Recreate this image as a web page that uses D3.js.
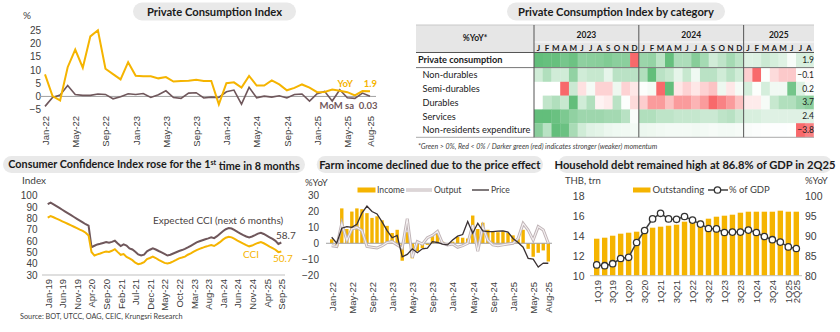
<!DOCTYPE html>
<html><head><meta charset="utf-8">
<script src="https://cdn.jsdelivr.net/npm/d3@7/dist/d3.min.js"></script>
<style>
body{margin:0;background:#fff;}
svg{display:block;font-family:Lato,"Open Sans",sans-serif;}
</style></head><body>
<svg id="c" width="840" height="332"></svg>
<script>
// ---------------- DATA ----------------
// Panel 1: Private Consumption Index (Jan-22 .. Aug-25)
const pciYoY = [8.3,0.1,-1.5,11.0,17.6,10.8,22.6,24.9,10.4,8.4,6.4,12.9,
  7.8,7.6,7.6,6.8,7.3,5.6,5.8,5.9,6.3,5.8,5.8,-3.0,
  5.0,5.3,3.3,7.7,4.1,4.1,6.0,4.5,2.3,3.2,4.5,3.3,
  1.6,1.7,2.6,2.1,1.6,0.4,2.0,1.9];
const pciMoM = [-3.75,-0.4,0.5,4.1,0.75,0.4,0.4,0.9,0.75,-0.9,-0.1,1.0,
  0.75,1.1,-0.4,0.6,2.1,-0.4,-0.75,1.25,1.4,-0.6,-0.25,-0.4,
  1.75,2.4,-2.9,3.4,-0.5,0.1,-0.25,0.25,-0.6,0.75,0.9,-1.75,
  1.0,1.9,-1.75,2.5,-0.5,-0.75,1.25,0.03];
const monthTickIdx = [0,4,8,12,16,20,24,28,32,36,40,43];
const monthTickLabels = ["Jan-22","May-22","Sep-22","Jan-23","May-23","Sep-23","Jan-24","May-24","Sep-24","Jan-25","May-25","Aug-25"];
const pciYTicks = [-5,0,5,10,15,20,25];

// Panel 2: heatmap (Jan-23 .. Aug-25), %YoY
const heatYears = ["2023","2024","2025"];
const heatMonthLetters = ["J","F","M","A","M","J","J","A","S","O","N","D",
  "J","F","M","A","M","J","J","A","S","O","N","D",
  "J","F","M","A","M","J","J","A"];
const heatRows = ["Private consumption","Non-durables","Semi-durables","Durables","Services","Non-residents expenditure"];
const heatPrivate = pciYoY.slice(12);
const heatNonDurables = [1.5,2.5,1.5,1.5,3.5,1.5,1.8,1.8,0.8,2.2,2.2,2.2,
  2.5,5.0,2.2,1.8,0.8,1.8,0.5,2.2,2.2,1.5,2.2,1.5,
  -0.8,-2.5,0.1,-0.6,-0.9,-0.9,0.1,-0.1];
const heatSemiDurables = [0.0,0.0,0.0,-5.0,1.5,-1.0,0.3,-1.5,-1.5,0.5,-1.5,-0.8,
  0.1,0.3,-5.0,4.5,-0.8,-1.5,-0.8,-1.5,-2.0,0.5,-0.8,0.3,
  1.2,0.1,1.2,0.4,0.4,4.0,1.0,0.2];
const heatDurables = [0.0,2.0,2.5,1.8,5.0,1.5,2.5,-0.5,-0.8,2.2,0.1,-1.5,
  -2.0,-4.0,-4.0,-2.5,-4.0,-4.0,-3.0,-4.0,-6.0,-5.0,-4.0,-2.5,
  -0.8,-0.8,0.3,1.8,2.5,2.5,3.2,3.7];
const heatServices = [12,12,11.5,10,8.5,7.5,7.5,7.5,7,7,5.5,0.5,
  6,6,5,5,4.5,4.5,4.5,4,4,5,5.5,4,
  3,3,2.5,2.5,2.5,2.5,2.5,2.4];
const heatNonResidents = [150,90,200,190,110,60,40,35,25,20,18,15,
  25,22,18,15,15,15,18,15,12,15,15,12,
  8,5,3,2,2,1,-4.5,-3.8];

// Panel 3: Consumer Confidence (Jan-19 .. Sep-25)
const cciExpected = [92.5,93.9,92.4,90.8,89.2,87.6,86.0,84.4,82.8,81.2,79.6,78.0,76.4,74.8,73.5,
  54.5,55.8,57.0,57.6,58.3,59.0,58.4,59.2,60.3,57.8,55.5,57.0,56.0,53.4,52.5,
  50.6,48.2,47.2,48.0,50.9,52.3,53.6,52.5,51.2,50.0,48.6,47.2,47.9,49.0,50.1,
  51.2,52.0,53.0,54.3,55.8,57.3,58.8,59.8,60.7,61.6,62.3,63.2,62.5,64.3,66.5,
  68.6,70.4,71.4,71.0,69.6,68.0,66.6,65.2,64.0,63.2,64.0,65.2,66.5,67.3,66.2,
  64.8,63.3,61.8,60.2,57.4,58.7];
const cciIndex = [80.7,82.0,81.0,79.8,78.6,77.4,76.2,75.0,73.8,72.6,71.3,70.0,69.0,67.3,64.8,
  50.3,47.2,48.2,49.0,50.0,50.8,50.4,51.4,52.8,50.2,47.8,48.5,46.0,44.7,43.1,
  40.9,39.6,40.2,41.4,44.0,45.0,46.2,45.0,43.3,42.0,40.7,40.2,40.8,42.0,43.3,
  44.7,45.4,46.2,47.9,49.1,50.6,52.0,53.1,54.0,55.0,55.7,56.5,55.6,57.2,59.0,
  61.2,62.9,63.8,63.2,61.9,60.4,59.0,57.6,56.3,55.3,56.0,57.2,58.3,59.0,58.0,
  56.6,55.1,53.7,52.3,50.2,50.7];
const cciTickIdx = [0,5,10,15,20,25,30,35,40,45,50,55,60,65,70,75,80];
const cciTickLabels = ["Jan-19","Jun-19","Nov-19","Apr-20","Sep-20","Feb-21","Jul-21","Dec-21","May-22","Oct-22","Mar-23","Aug-23","Jan-24","Jun-24","Nov-24","Apr-25","Sep-25"];
const cciYTicks = [30,40,50,60,70,80,90,100];

// Panel 4: Farm income (Jan-22 .. Aug-25), %YoY
const farmIncome = [2.5,-2,22,9,20,22,21.5,19,16,17,14.5,11,
  6.5,8.5,-11,7,-9.5,-5,-3,-1,4.5,7.5,1,-0.5,
  1,4,3.5,3,17.5,9,13,8.5,7.5,7,7.5,6.5,
  5,3,8.5,-3.5,-8.5,-6,-4.5,-11.5];
const farmOutput = [-1.5,-2,12.5,2,9,10,8,-2,-2.5,-3,-1.5,0.5,
  1,-1,-3,15.5,-9,1,-0.5,3.5,5,7.5,0,-1,
  -0.5,-2.5,-1.5,0,11.5,-5,10.5,2,-1,-1.5,-1,-0.5,
  0,3,12.5,8.4,2,10.5,8.4,0];
const farmPrice = [3.8,0,9.5,10.5,10,12,19,23.5,20,18.5,13.5,8,
  3.5,5,-8.5,-7,-3.5,-6,-3.5,-3,1,0.5,-0.5,-1,
  2,4.5,5.5,13.7,6.3,12.6,7.8,7.4,7.4,7.6,7.8,7.0,
  3,0.5,-2.5,-9.5,-10,-15,-12.5,-12.6];
const farmYTicks = [-20,-10,0,10,20,30];

// Panel 5: Household debt (1Q19 .. 2Q25)
const hhQuarters = ["1Q19","2Q19","3Q19","4Q19","1Q20","2Q20","3Q20","4Q20","1Q21","2Q21","3Q21","4Q21",
  "1Q22","2Q22","3Q22","4Q22","1Q23","2Q23","3Q23","4Q23","1Q24","2Q24","3Q24","4Q24","1Q25","2Q25"];
const hhOutstanding = [13.7,13.8,14.0,14.2,14.3,14.4,14.6,14.8,14.9,15.0,15.1,15.4,
  15.4,15.5,15.7,15.9,16.0,16.1,16.3,16.4,16.4,16.4,16.4,16.5,16.4,16.4];
const hhPctGDP = [82.7,82.5,83.0,84.3,84.6,88.3,91.3,94.2,95.6,94.2,94.1,94.8,
  93.9,92.9,91.8,91.7,90.8,90.9,90.9,91.4,90.8,89.8,89.0,88.4,87.2,86.8];
const hhTickLabels = ["1Q19","3Q19","1Q20","3Q20","1Q21","3Q21","1Q22","3Q22","1Q23","3Q23","1Q24","3Q24","1Q25","2Q25"];
const hhLeftTicks = [10,12,14,16,18];
const hhRightTicks = [80,85,90,95,100];

// ---------------- STYLE ----------------
const YEL = "#F5B400", BROWN = "#6f575b", INK = "#404040", DARK = "#1a1a1a";
const svg = d3.select("#c");

function pill(x, y, w, h, size, build) {
  svg.append("rect").attr("x", x).attr("y", y).attr("width", w).attr("height", h)
    .attr("rx", h / 2).attr("fill", "#e9e9e9");
  const t = svg.append("text").attr("x", x + w / 2).attr("y", y + h / 2).attr("dy", "0.36em")
    .attr("text-anchor", "middle").attr("font-weight", 700).attr("font-size", size).attr("fill", DARK);
  build(t);
}
function leftAxis(scale, ticks, xPos, fmt, size) {
  const g = svg.append("g").attr("transform", `translate(${xPos},0)`)
    .call(d3.axisLeft(scale).tickValues(ticks).tickSize(0).tickPadding(0).tickFormat(fmt || d3.format("d")));
  g.select(".domain").remove();
  g.selectAll("text").attr("font-size", size || 10).attr("fill", INK).attr("font-family", null);
  return g;
}
function rightAxis(scale, ticks, xPos, size) {
  const g = svg.append("g").attr("transform", `translate(${xPos},0)`)
    .call(d3.axisRight(scale).tickValues(ticks).tickSize(0).tickPadding(0).tickFormat(d3.format("d")));
  g.select(".domain").remove();
  g.selectAll("text").attr("font-size", size || 10).attr("fill", INK).attr("font-family", null);
}
function rotAxis(scale, ticks, labels, yTop, size) {
  const g = svg.append("g").attr("transform", `translate(0,${yTop})`)
    .call(d3.axisBottom(scale).tickValues(ticks).tickSize(0).tickFormat((d, i) => labels[i]));
  g.select(".domain").remove();
  g.selectAll("text").attr("transform", "rotate(-90)").attr("text-anchor", "end")
    .attr("x", 0).attr("y", 0).attr("dy", "0.35em")
    .attr("font-size", size || 9.5).attr("fill", INK).attr("font-family", null);
}

// ================= PANEL 1 =================
pill(133, 2.5, 163, 18, 11.2, t => t.text("Private Consumption Index"));
{
  const x = d3.scaleLinear().domain([0, 43]).range([45, 370]);
  const y = d3.scaleLinear().domain([-5, 25]).range([109.7, 30]);
  svg.append("text").attr("x", 23).attr("y", 19).attr("font-size", 10).attr("fill", INK).text("%");
  leftAxis(y, pciYTicks, 41);
  svg.append("line").attr("x1", 40).attr("x2", 376).attr("y1", y(0)).attr("y2", y(0))
    .attr("stroke", "#a0a0a0").attr("stroke-width", 1);
  const line = d3.line().x((d, i) => x(i)).y(d => y(d));
  svg.append("path").datum(pciMoM).attr("d", line).attr("fill", "none").attr("stroke", BROWN).attr("stroke-width", 1.6);
  svg.append("path").datum(pciYoY).attr("d", line).attr("fill", "none").attr("stroke", YEL).attr("stroke-width", 2);
  rotAxis(x, monthTickIdx, monthTickLabels, 116);
  svg.append("text").attr("x", 353).attr("y", 87).attr("text-anchor", "end").attr("font-size", 9.5).attr("font-weight", 700).attr("fill", YEL).text("YoY");
  svg.append("text").attr("x", 377).attr("y", 87).attr("text-anchor", "end").attr("font-size", 9.5).attr("font-weight", 700).attr("fill", YEL).text(d3.format(".1f")(pciYoY[43]));
  svg.append("text").attr("x", 354).attr("y", 109).attr("text-anchor", "end").attr("font-size", 9.5).attr("font-weight", 700).attr("fill", BROWN).text("MoM sa");
  svg.append("text").attr("x", 377.5).attr("y", 109).attr("text-anchor", "end").attr("font-size", 9.5).attr("font-weight", 700).attr("fill", BROWN).text(d3.format(".2f")(pciMoM[43]));
}

// ================= PANEL 2 (heatmap) =================
pill(507, 2.5, 218, 18, 11.2, t => t.text("Private Consumption Index by category"));
{
  const L = 416, R = 814, C0 = 534;
  const xc = d3.scaleLinear().domain([0, 32]).range([C0, 813.5]);
  const cw = xc(1) - xc(0);
  const rowTop = [53, 68, 81.8, 95.6, 109.4, 123.2];
  const rowH = 13.8;
  const series = [heatPrivate, heatNonDurables, heatSemiDurables, heatDurables, heatServices, heatNonResidents];
  svg.append("rect").attr("x", L).attr("y", 25).attr("width", R - L).attr("height", 27.5).attr("fill", "#e6e6e6");
  svg.append("line").attr("x1", C0).attr("x2", R).attr("y1", 42).attr("y2", 42).attr("stroke", "#fafafa").attr("stroke-width", 1);
  svg.append("line").attr("x1", L).attr("x2", R).attr("y1", 25).attr("y2", 25).attr("stroke", "#c8c8c8");
  svg.append("text").attr("x", (L + C0) / 2).attr("y", 38.5).attr("dy", "0.35em").attr("text-anchor", "middle")
    .attr("font-size", 8.5).attr("font-weight", 700).attr("fill", DARK).text("%YoY*");
  heatYears.forEach((yr, k) => {
    const a = xc(k * 12), b = k < 2 ? xc(k * 12 + 12) : R;
    svg.append("text").attr("x", (a + b) / 2).attr("y", 35).attr("dy", "0.35em").attr("text-anchor", "middle")
      .attr("font-size", 8.5).attr("font-weight", 700).attr("fill", DARK).text(yr);
  });
  svg.append("g").selectAll("text").data(heatMonthLetters).join("text")
    .attr("x", (d, i) => xc(i) + cw / 2).attr("y", 48.5).attr("dy", "0.35em").attr("text-anchor", "middle")
    .attr("font-size", 8).attr("font-weight", 700).attr("fill", DARK).text(d => d);
  series.forEach((vals, r) => {
    const mx = d3.max(vals), mn = d3.min(vals);
    const col = v => v >= 0
      ? d3.interpolateRgb("#ffffff", "#63BE7B")(mx > 0 ? v / mx : 0)
      : d3.interpolateRgb("#ffffff", "#F8696B")(mn < 0 ? v / mn : 0);
    svg.append("g").selectAll("rect").data(vals).join("rect")
      .attr("x", (d, i) => xc(i)).attr("y", rowTop[r]).attr("width", cw + 0.3).attr("height", rowH + 0.3)
      .attr("fill", d => col(d));
    svg.append("text").attr("x", r === 0 ? 418 : 422.5).attr("y", rowTop[r] + rowH / 2).attr("dy", "0.35em")
      .attr("font-size", 9.2).attr("font-weight", r === 0 ? 700 : 400).attr("fill", DARK).text(heatRows[r]);
    svg.append("text").attr("x", R).attr("y", rowTop[r] + rowH / 2).attr("dy", "0.35em").attr("text-anchor", "end")
      .attr("font-size", 8.5).attr("fill", DARK).text(d3.format(".1f")(vals[vals.length - 1]));
  });
  svg.append("line").attr("x1", L).attr("x2", R).attr("y1", 52.5).attr("y2", 52.5).attr("stroke", "#555");
  svg.append("line").attr("x1", L).attr("x2", R).attr("y1", 67.6).attr("y2", 67.6).attr("stroke", "#777");
  svg.append("line").attr("x1", L).attr("x2", R).attr("y1", 137.3).attr("y2", 137.3).attr("stroke", "#aaa");
  [0, 12, 24].forEach(k => {
    svg.append("line").attr("x1", xc(k)).attr("x2", xc(k)).attr("y1", 25).attr("y2", 137.3)
      .attr("stroke", "#555").attr("stroke-width", 1);
  });
  svg.append("text").attr("x", 418).attr("y", 148.5).attr("font-size", 7).attr("font-style", "italic").attr("fill", INK)
    .text("*Green > 0%, Red < 0% / Darker green (red) indicates stronger (weaker) momentum");
}

// ================= PANEL 3 (CCI) =================
pill(3, 156, 302, 17, 10.8, t => {
  t.append("tspan").text("Consumer Confidence Index rose for the 1");
  t.append("tspan").attr("font-size", 7).attr("dy", "-0.45em").text("st");
  t.append("tspan").attr("dy", "0.45em").text(" time in 8 months");
});
{
  const x = d3.scaleLinear().domain([0, 80]).range([47.7, 281.3]);
  const y = d3.scaleLinear().domain([30, 100]).range([275, 195.7]);
  svg.append("text").attr("x", 22).attr("y", 184).attr("font-size", 10).attr("fill", INK).text("Index");
  leftAxis(y, cciYTicks, 37.5);
  svg.append("line").attr("x1", 42).attr("x2", 285).attr("y1", y(30)).attr("y2", y(30)).attr("stroke", "#bfbfbf");
  const line = d3.line().x((d, i) => x(i)).y(d => y(d));
  svg.append("path").datum(cciExpected).attr("d", line).attr("fill", "none").attr("stroke", BROWN).attr("stroke-width", 2);
  svg.append("path").datum(cciIndex).attr("d", line).attr("fill", "none").attr("stroke", YEL).attr("stroke-width", 2);
  rotAxis(x, cciTickIdx, cciTickLabels, 279);
  svg.append("text").attr("x", 153).attr("y", 224).attr("font-size", 10).attr("fill", "#4a3f42").text("Expected CCI (next 6 months)");
  svg.append("text").attr("x", 276).attr("y", 238.5).attr("font-size", 10).attr("fill", "#4a3f42").text(d3.format(".1f")(cciExpected[80]));
  svg.append("text").attr("x", 243).attr("y", 257.5).attr("font-size", 10).attr("fill", YEL).text("CCI");
  svg.append("text").attr("x", 273).attr("y", 261.5).attr("font-size", 10).attr("fill", YEL).text(d3.format(".1f")(cciIndex[80]));
  svg.append("text").attr("x", 20).attr("y", 319).attr("font-size", 7.3).attr("fill", INK)
    .text("Source: BOT, UTCC, OAG, CEIC,  Krungsri Research");
}

// ================= PANEL 4 (Farm) =================
pill(316.7, 156, 226.3, 17, 11.2, t => t.text("Farm income declined due to the price effect"));
{
  const x = d3.scaleLinear().domain([0, 43]).range([331.7, 548.3]);
  const y = d3.scaleLinear().domain([-20, 30]).range([275, 195.7]);
  svg.append("text").attr("x", 305).attr("y", 185.5).attr("font-size", 9.5).attr("fill", INK).text("%YoY");
  leftAxis(y, farmYTicks, 319);
  const bw = 3.4;
  svg.append("g").selectAll("rect").data(farmIncome).join("rect")
    .attr("x", (d, i) => x(i) - bw / 2).attr("y", d => y(Math.max(0, d)))
    .attr("width", bw).attr("height", d => Math.abs(y(d) - y(0))).attr("fill", YEL);
  svg.append("line").attr("x1", 326).attr("x2", 552).attr("y1", y(0)).attr("y2", y(0)).attr("stroke", "#a0a0a0");
  const line = d3.line().x((d, i) => x(i)).y(d => y(d));
  svg.append("path").datum(farmOutput).attr("d", line).attr("fill", "none").attr("stroke", "#bfb3b6").attr("stroke-width", 3);
  svg.append("path").datum(farmOutput).attr("d", line).attr("fill", "none").attr("stroke", "#f4f0f1").attr("stroke-width", 1.1);
  svg.append("path").datum(farmPrice).attr("d", line).attr("fill", "none").attr("stroke", "#3a3133").attr("stroke-width", 1.3);
  rotAxis(x, monthTickIdx, monthTickLabels, 282);
  svg.append("rect").attr("x", 357.5).attr("y", 187.5).attr("width", 18).attr("height", 5).attr("fill", YEL);
  svg.append("text").attr("x", 377).attr("y", 190).attr("dy", "0.35em").attr("font-size", 8.6).attr("fill", INK).text("Income");
  svg.append("line").attr("x1", 406).attr("x2", 432).attr("y1", 190).attr("y2", 190).attr("stroke", "#bfb3b6").attr("stroke-width", 3);
  svg.append("line").attr("x1", 406).attr("x2", 432).attr("y1", 190).attr("y2", 190).attr("stroke", "#f4f0f1").attr("stroke-width", 1.1);
  svg.append("text").attr("x", 434).attr("y", 190).attr("dy", "0.35em").attr("font-size", 8.6).attr("fill", INK).text("Output");
  svg.append("line").attr("x1", 472).attr("x2", 489).attr("y1", 190).attr("y2", 190).attr("stroke", "#3a3133").attr("stroke-width", 1.3);
  svg.append("text").attr("x", 491).attr("y", 190).attr("dy", "0.35em").attr("font-size", 8.6).attr("fill", INK).text("Price");
}

// ================= PANEL 5 (Household debt) =================
pill(558, 156, 274, 17, 11.2, t => t.text("Household debt remained high at 86.8% of GDP in 2Q25"));
{
  const x = d3.scaleLinear().domain([0, 25]).range([596.7, 796.3]);
  const yL = d3.scaleLinear().domain([10, 18]).range([275.7, 195.7]);
  const yR = d3.scaleLinear().domain([80, 100]).range([275.7, 195.7]);
  svg.append("text").attr("x", 565).attr("y", 183.5).attr("font-size", 9.5).attr("fill", INK).text("THB, trn");
  svg.append("text").attr("x", 805).attr("y", 183.5).attr("font-size", 9.5).attr("fill", INK).text("%YoY");
  leftAxis(yL, hhLeftTicks, 584.5, null, 10.5);
  rightAxis(yR, hhRightTicks, 805, 10.5);
  const bw = 5.4;
  svg.append("g").selectAll("rect").data(hhOutstanding).join("rect")
    .attr("x", (d, i) => x(i) - bw / 2).attr("y", d => yL(d)).attr("width", bw)
    .attr("height", d => yL(10) - yL(d)).attr("fill", YEL);
  svg.append("line").attr("x1", 590).attr("x2", 802).attr("y1", yL(10)).attr("y2", yL(10)).attr("stroke", "#bfbfbf");
  svg.append("path").datum(hhPctGDP).attr("d", d3.line().x((d, i) => x(i)).y(d => yR(d)))
    .attr("fill", "none").attr("stroke", "#404040").attr("stroke-width", 1.5);
  svg.append("g").selectAll("circle").data(hhPctGDP).join("circle")
    .attr("cx", (d, i) => x(i)).attr("cy", d => yR(d)).attr("r", 3.2)
    .attr("fill", "#fff").attr("stroke", "#333").attr("stroke-width", 1.3);
  const tickIdx = hhTickLabels.map(l => hhQuarters.indexOf(l));
  rotAxis(x, tickIdx, hhTickLabels, 280, 9.5);
  svg.append("rect").attr("x", 633).attr("y", 187.5).attr("width", 17.5).attr("height", 5).attr("fill", YEL);
  svg.append("text").attr("x", 652.5).attr("y", 190).attr("dy", "0.35em").attr("font-size", 9.5).attr("fill", INK).text("Outstanding");
  svg.append("line").attr("x1", 708).attr("x2", 728).attr("y1", 190).attr("y2", 190).attr("stroke", "#404040").attr("stroke-width", 1.5);
  svg.append("circle").attr("cx", 717.5).attr("cy", 190).attr("r", 3.2).attr("fill", "#fff").attr("stroke", "#333").attr("stroke-width", 1.3);
  svg.append("text").attr("x", 729).attr("y", 190).attr("dy", "0.35em").attr("font-size", 9.5).attr("fill", INK).text("% of GDP");
}
</script>
</body></html>
